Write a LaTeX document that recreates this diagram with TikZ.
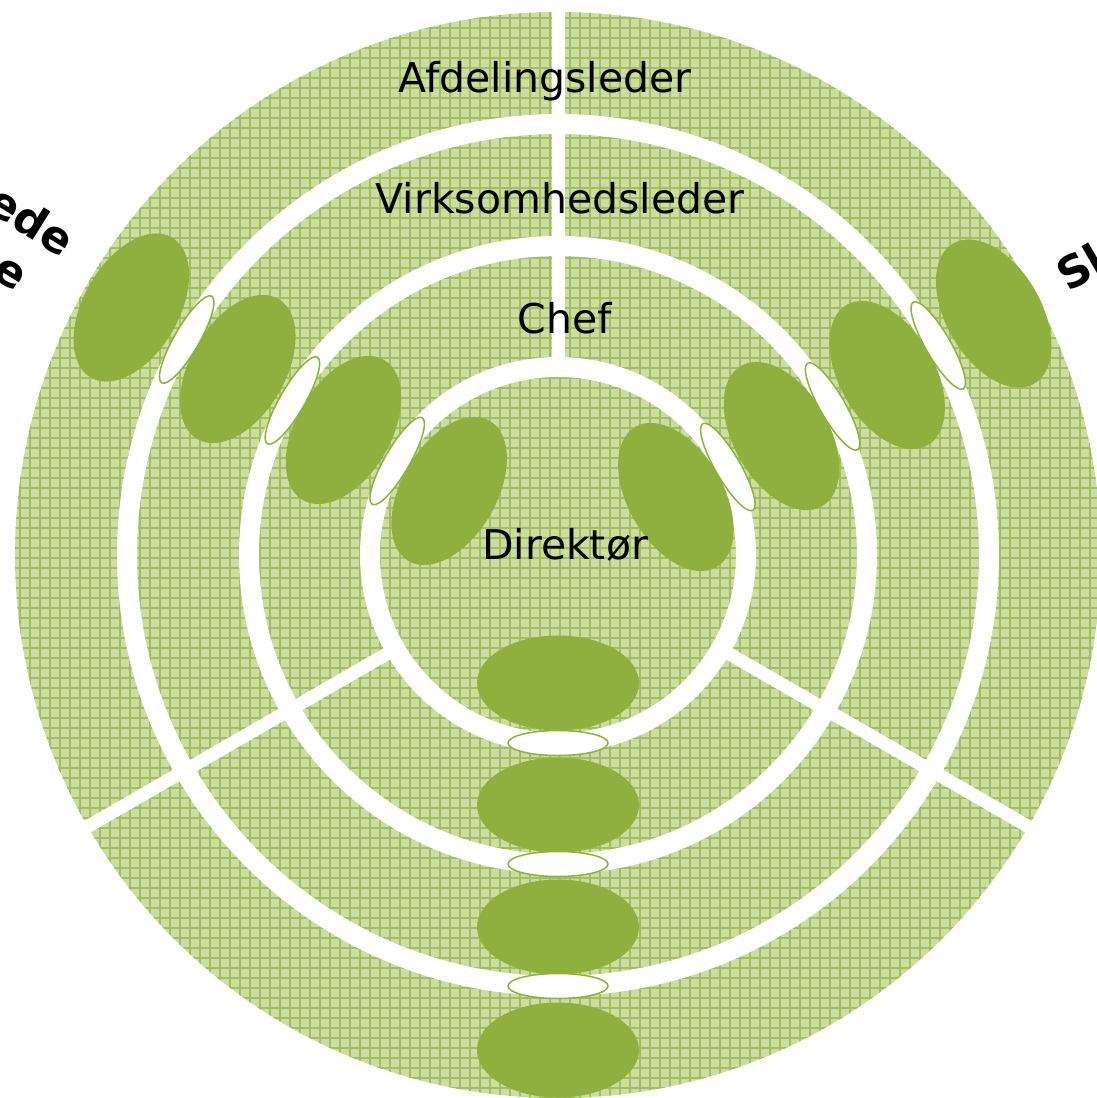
\documentclass[tikz,border=0pt]{standalone}
\usepackage{fontspec}
\setmainfont{DejaVu Sans}
\usetikzlibrary{patterns.meta}
\definecolor{leaf}{HTML}{8FB03E}
\definecolor{paleleaf}{HTML}{CCDDA3}
\definecolor{gridleaf}{HTML}{A2BE60}
\begin{document}
\begin{tikzpicture}[x=1pt,y=1pt,
  lbl/.style={font=\fontsize{41}{49}\selectfont, inner sep=0pt, text=black},
  side/.style={font=\fontsize{44}{52}\selectfont\bfseries, inner sep=0pt, text=black},
  gap/.style={white, line width=20pt},
  divider/.style={white, line width=13pt},
  pod/.style={fill=leaf},
  joint/.style={fill=white, draw=leaf, line width=1.5pt}]
\useasboundingbox (0,0) rectangle (1097,-1098);
\clip (0,0) rectangle (1097,-1098);
\coordinate (C) at (558,-555);
% textured disc
\fill[paleleaf] (C) circle (543pt);
\path[pattern={Lines[angle=0,distance=10pt,line width=1.5pt]}, pattern color=gridleaf] (C) circle (543pt);
\path[pattern={Lines[angle=90,distance=10pt,line width=1.5pt]}, pattern color=gridleaf] (C) circle (543pt);
% white ring gaps
\draw[gap] (C) circle (431pt);
\draw[gap] (C) circle (309pt);
\draw[gap] (C) circle (188pt);
% radial dividers
\foreach \a in {90,210,330}{
  \begin{scope}[shift={(C)}, rotate=\a]
    \draw[divider] (188,0) -- (620,0);
  \end{scope}
}
% ellipse chains
\foreach \a/\dx/\dy in {270/0/0, 150/2/0, 30/7/-6}{
  \begin{scope}[shift={(C)}, shift={(\dx,\dy)}, rotate=\a-270]
    \foreach \r in {128,250,372,495}
      \fill[pod] (0,-\r) ellipse [x radius=81pt, y radius=47.5pt];
    \foreach \r in {188,309,431}
      \filldraw[joint] (0,-\r) ellipse [x radius=50pt, y radius=12.5pt];
  \end{scope}
}
% level labels
\node[lbl, anchor=base] (afd) at (545,-92) {Afdelingsleder};
\node[lbl, anchor=base] (virk) at (560,-213) {Virksomhedsleder};
\node[lbl, anchor=base] (chef) at (565,-333) {Chef};
\node[lbl, anchor=base] (dir) at (565,-559) {Direktør};
% cut-off side labels
\node[side, anchor=base east, rotate=-32] (leftA) at (62,-258) {ede};
\node[side, anchor=base east, rotate=-32] (leftB) at (16,-292) {e};
\node[side, anchor=base west, rotate=30] (rightA) at (1068,-293) {Sl};
\end{tikzpicture}
\end{document}
